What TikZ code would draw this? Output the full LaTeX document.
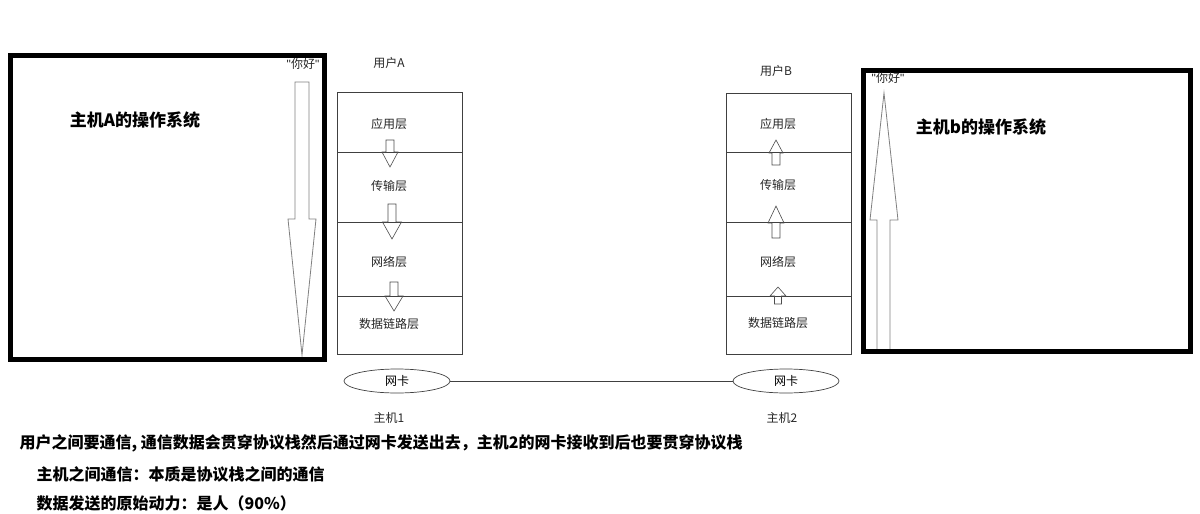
\documentclass[tikz,border=0pt]{standalone}
\usepackage{fontspec}
\setmainfont{Noto Sans CJK SC}
\newfontfamily\qfont{Liberation Sans}
\usetikzlibrary{shapes.geometric}
\begin{document}
\begin{tikzpicture}[x=1pt,y=-1pt,
  osbox/.style={line width=5pt},
  layerbox/.style={draw=black!75,line width=0.7pt},
  lbl/.style={font=\fontsize{12}{14}\selectfont,text=black!85},
  ostitle/.style={font=\fontsize{17}{20}\selectfont\bfseries},
  note/.style={font=\fontsize{16}{19}\selectfont\bfseries,anchor=west},
  bigarrow/.style={draw=black!50,line width=0.8pt},
  smallarrow/.style={draw=black!70,line width=0.6pt},
  nic/.style={draw=black!75,line width=0.7pt,ellipse,minimum width=106pt,
    minimum height=24pt,inner sep=0pt,font=\fontsize{12}{14}\selectfont}]
\useasboundingbox (0,0) rectangle (1200,514);
% host A
\node[ostitle] (osA) at (135,120) {主机A的操作系统};
\node[lbl] (helloA) at (303,64) {{\qfont"}你好{\qfont"}};
\draw[bigarrow] (295,82) -- (309,82) -- (309,219) -- (316,219)
  -- (302,355) -- (288,219) -- (295,219) -- cycle;
\draw[osbox] (10,55) rectangle (324,359);
% stack A
\node[lbl] (userA) at (389,63) {用户A};
\draw[layerbox] (337,92) rectangle (462,354);
\foreach \y in {152,222,296}
  \draw[layerbox] (337,\y) -- (462,\y);
\node[lbl] (appA) at (389,124) {应用层};
\node[lbl] (transA) at (389,186) {传输层};
\node[lbl] (netA) at (389,262) {网络层};
\node[lbl] (linkA) at (389,324) {数据链路层};
\foreach \cx/\t/\b/\p/\s/\h in {390/140/152/167/4/8, 392/204/222/239/4/9.5,
    394/282/296/311/4/9}
  \draw[smallarrow] ({\cx-\s},\t) -- ({\cx+\s},\t) -- ({\cx+\s},\b)
    -- ({\cx+\h},\b) -- (\cx,\p) -- ({\cx-\h},\b) -- ({\cx-\s},\b) -- cycle;
% stack B
\node[lbl] (userB) at (776,71) {用户B};
\draw[layerbox] (726,93) rectangle (851,354);
\foreach \y in {152,222,296}
  \draw[layerbox] (726,\y) -- (851,\y);
\node[lbl] (appB) at (778,124) {应用层};
\node[lbl] (transB) at (778,185) {传输层};
\node[lbl] (netB) at (778,262) {网络层};
\node[lbl] (linkB) at (778,323) {数据链路层};
\foreach \cx/\t/\b/\p/\s/\h in {776/165/153/140/4/7, 776/238/223/206/4/8,
    778/304/296/287/3.5/8}
  \draw[smallarrow] ({\cx-\s},\t) -- ({\cx+\s},\t) -- ({\cx+\s},\b)
    -- ({\cx+\h},\b) -- (\cx,\p) -- ({\cx-\h},\b) -- ({\cx-\s},\b) -- cycle;
% host B
\node[ostitle] (osB) at (981,127) {主机b的操作系统};
\draw[bigarrow] (877,349) -- (877,220) -- (870,220) -- (884,93)
  -- (898,220) -- (890,220) -- (890,349);
\draw[osbox] (863,70) rectangle (1190,351);
\node[lbl] (helloB) at (888,78) {{\qfont"}你好{\qfont"}};
% network cards
\node[nic] (nicA) at (397,381) {网卡};
\node[nic] (nicB) at (786,381) {网卡};
\draw[layerbox] (nicA) -- (nicB);
\node[lbl] (hostA) at (389,418) {主机1};
\node[lbl] (hostB) at (782,418) {主机2};
% notes
\node[note] (noteA) at (16,443) {用户之间要通信,\ 通信数据会贯穿协议栈然后通过网卡发送出去，主机2的网卡接收到后也要贯穿协议栈};
\node[note] (noteB) at (33,474) {主机之间通信：本质是协议栈之间的通信};
\node[note] (noteC) at (33,503) {数据发送的原始动力：是人（90\%）};
\end{tikzpicture}
\end{document}
